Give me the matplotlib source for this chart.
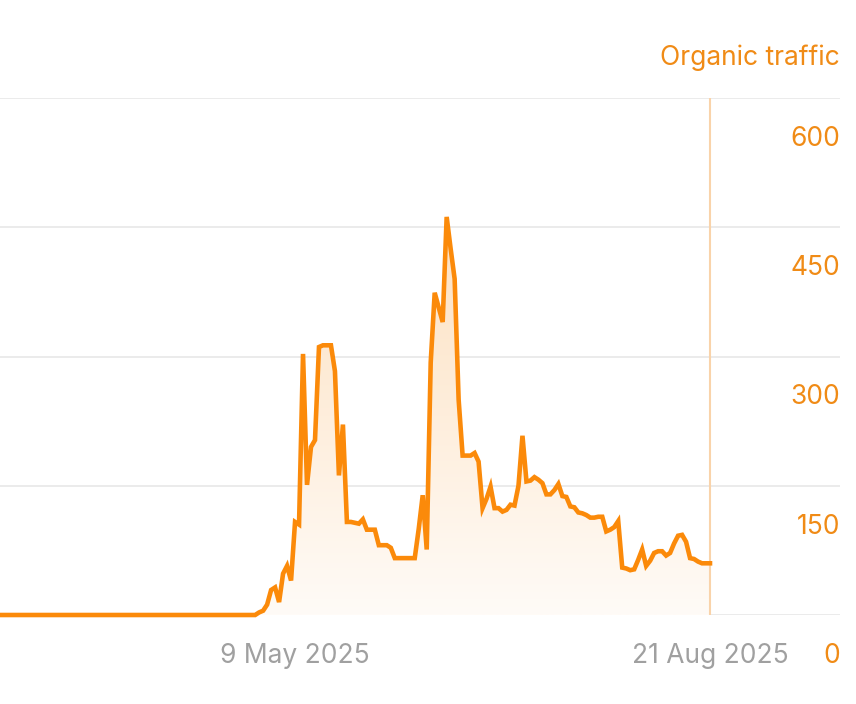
import numpy as np
import pandas as pd
import matplotlib
matplotlib.use("Agg")
import matplotlib.pyplot as plt
import matplotlib.dates as mdates
from matplotlib.colors import LinearSegmentedColormap
from matplotlib.transforms import ScaledTranslation

plt.rcParams['font.family'] = ['Inter', 'DejaVu Sans']

# data: flat zero from late Feb, then daily values from 29 Apr
flat_start = '2025-02-24'
daily_start = '2025-04-29'
traffic = [
    0, 3, 5, 12, 29, 32, 15, 48, 57, 40,
    108, 105, 303, 151, 195, 203, 311, 313, 313, 313,
    283, 162, 221, 108, 108, 107, 106, 111, 99, 99,
    99, 81, 81, 81, 78, 66, 66, 66, 66, 66,
    66, 100, 139, 76, 293, 374, 357, 340, 462, 425,
    390, 250, 185, 185, 185, 188, 178, 124, 135, 149,
    124, 124, 120, 122, 128, 127, 150, 208, 155, 156,
    160, 157, 153, 140, 140, 145, 152, 138, 137, 126,
    125, 119, 118, 116, 113, 113, 114, 114, 97, 99,
    102, 109, 55, 54, 52, 53, 64, 76, 57, 63,
    72, 74, 74, 69, 72, 83, 92, 93, 85, 66,
    65, 62, 60, 60, 60,
]
yticks = [0, 150, 300, 450, 600]
xtick_dates = ['2025-05-09', '2025-08-21']
xtick_labels = ['9 May 2025', '21 Aug 2025']
marker_date = '2025-08-21'
series_name = 'Organic traffic'

dates = [pd.Timestamp(flat_start)] + list(pd.date_range(daily_start, periods=len(traffic), freq='D'))
values = [0] + traffic
x = mdates.date2num(dates)
y = np.array(values, dtype=float)

line_c = '#fb8a0a'
text_c = '#f08b16'
grid_c = '#e7e7e7'
fs = 19

fig = plt.figure(figsize=(8.56, 7.04), dpi=100)
ax = fig.add_axes([0.0, 89 / 704, 840 / 856, 517 / 704])

# x range: 21 Aug sits at 710 px, ~3.99 px per day
x_end = mdates.date2num(pd.Timestamp(marker_date))
xlim = (x_end - 710 / 3.99, x_end + 130 / 3.99)

for v in yticks:
    ax.axhline(v, color=grid_c, lw=1.2, zorder=0)

# gradient fill under curve
poly = ax.fill_between(x, y, 0, color='none', lw=0)
cmap = LinearSegmentedColormap.from_list('fade', ['#fffbf7', '#fde0bf'])
grad = np.linspace(0, 1, 256).reshape(-1, 1)
im = ax.imshow(grad, cmap=cmap, aspect='auto', origin='lower',
               extent=[x[0], x[-1], 0, 480], zorder=1)
im.set_clip_path(poly.get_paths()[0], transform=ax.transData)
ax.set_xlim(*xlim)
ax.set_ylim(0, 600)

ax.plot(x, y, color=line_c, lw=3.3, solid_joinstyle='miter', zorder=3, clip_on=False)
ax.axvline(mdates.date2num(pd.Timestamp(marker_date)), color='#f9d3aa', lw=1.5, zorder=2)

for s in ax.spines.values():
    s.set_visible(False)

ax.set_yticks(yticks)
ax.yaxis.tick_right()
ax.tick_params(axis='y', length=0, pad=0, labelsize=fs, labelcolor=text_c)
off = ScaledTranslation(0, -0.38, fig.dpi_scale_trans)
for lab in ax.get_yticklabels():
    lab.set_horizontalalignment('right')
    lab.set_transform(lab.get_transform() + off)

ax.set_xticks(mdates.date2num(pd.to_datetime(xtick_dates)))
ax.set_xticklabels(xtick_labels)
ax.tick_params(axis='x', length=0, pad=20, labelsize=fs, labelcolor='#a0a0a0')

ax.text(1.0, 1.0 + 40 / 517, series_name, transform=ax.transAxes, ha='right', va='center',
        fontsize=fs, color=text_c)

fig.savefig('out.png', dpi=100)
